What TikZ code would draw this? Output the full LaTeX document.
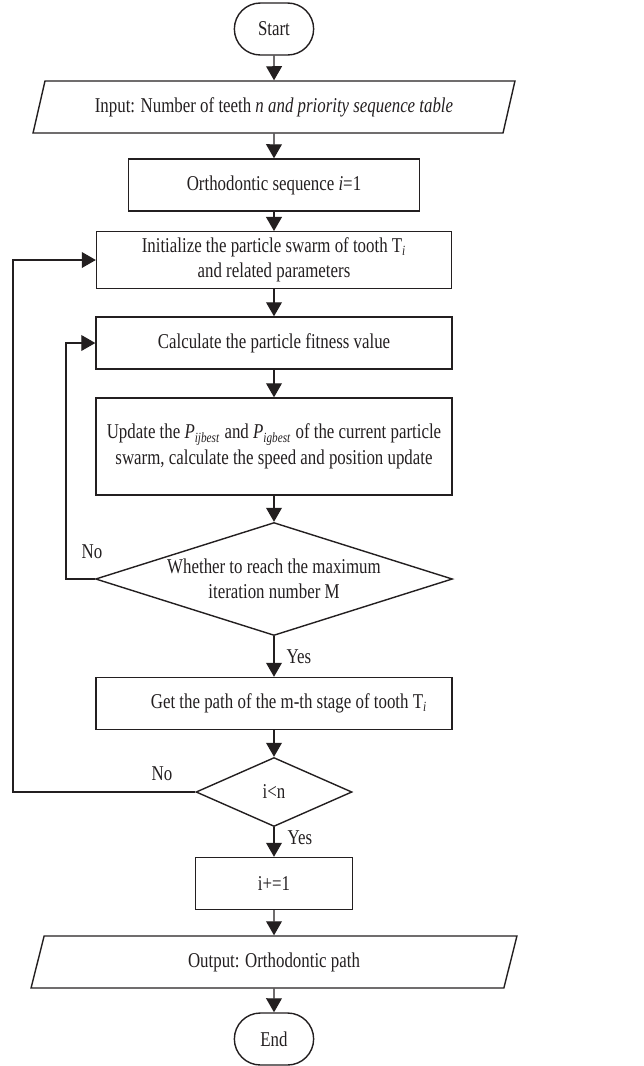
\documentclass[tikz,border=0pt]{standalone}
\usepackage{fontspec}
\setmainfont{Liberation Serif}[FakeStretch=0.8]
\usepackage{tikz}
\usetikzlibrary{arrows.meta,shapes.geometric,shapes.misc}
\definecolor{ink}{HTML}{231F20}
\tikzset{term/.style = {shape = rounded rectangle, draw, line width = 0.8pt, minimum width = 1.82cm, minimum height = 1.04cm}}
\tikzset{box/.style = {shape = rectangle, draw, line width = 0.8pt, align = center, minimum height = 1.04cm}}
\tikzset{io/.style = {shape = trapezium, draw, line width = 0.8pt, trapezium stretches body, minimum height = 1.04cm}}
\tikzset{cond/.style = {shape = diamond, draw, line width = 0.8pt, align = center, inner sep = 0pt}}
\tikzset{edge/.style = {line width = 0.65pt, -{Triangle[length = 8pt, width = 9pt]}}}

\begin{document}
\begin{tikzpicture}[x = 0.02cm, y = -0.02cm, draw = ink, text = ink,
		font = \fontsize{12pt}{14.5pt}\selectfont]
			\useasboundingbox (0, 0) rectangle (644, 1066);

			\node[term] (start) at (274, 29) {Start};
			\node[io, trapezium left angle = 69, trapezium right angle = 111, minimum width = 9.64cm] (input) at (274, 107)
				{Input: Number of teeth \textit{n and priority sequence table}};
			\node[box, minimum width = 5.82cm] (seq) at (274, 185) {Orthodontic sequence \textit{i}=1};
			\node[box, minimum width = 7.1cm, minimum height = 1.12cm] (init) at (274, 260)
				{Initialize the particle swarm of tooth T\textsubscript{\textit{i}}\\and related parameters};
			\node[box, minimum width = 7.12cm] (calc) at (274, 343) {Calculate the particle fitness value};
			\node[box, minimum width = 7.12cm, minimum height = 1.94cm] (upd) at (274, 446.5)
				{Update the \textit{P}\textsubscript{\textit{ijbest}} and \textit{P}\textsubscript{\textit{igbest}} of the current particle\\swarm, calculate the speed and position update};
			\node[cond, minimum width = 7.14cm, minimum height = 2.26cm, aspect = 3.16] (cond1) at (274, 579)
				{Whether to reach the maximum\\iteration number M};
			\node[box, minimum width = 7.12cm] (get) at (274, 703.5)
				{\hspace*{0.6cm}Get the path of the m-th stage of tooth T\textsubscript{\textit{i}}};
			\node[cond, minimum width = 3.12cm, minimum height = 1.38cm, aspect = 2.26] (cond2) at (274, 792) {i<n};
			\node[box, minimum width = 3.14cm] (inc) at (274, 883.5) {i+=1};
			\node[io, trapezium left angle = 67, trapezium right angle = 113, minimum width = 9.72cm] (output) at (274, 962)
				{Output: Orthodontic path};
			\node[term] (stop) at (274, 1039) {End};

			\coordinate (a1) at (66, 579);
			\coordinate (b1) at (13, 792);
			\node (no1) at (92, 552) {No};
			\node (no2) at (162, 774) {No};
			\node (yes1) at (299, 657) {Yes};
			\node (yes2) at (300, 838) {Yes};

			\draw[edge] (start) to (input);
			\draw[edge] (input) to (seq);
			\draw[edge] (seq) to (init);
			\draw[edge] (init) to (calc);
			\draw[edge] (calc) to (upd);
			\draw[edge] (upd) to (cond1);
			\draw[edge] (cond1) to (get);
			\draw[edge] (get) to (cond2);
			\draw[edge] (cond2) to (inc);
			\draw[edge] (inc) to (output);
			\draw[edge] (output) to (stop);
			\draw[edge] (cond1.west) -- (a1) |- (calc.west);
			\draw[edge] (cond2.west) -- (b1) |- (init.west);
		\end{tikzpicture}
\end{document}
